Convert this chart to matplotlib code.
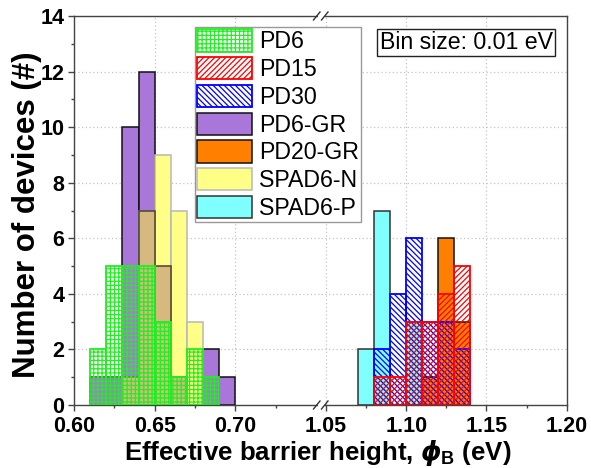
import numpy as np
import matplotlib
matplotlib.use("Agg")
import matplotlib.pyplot as plt
from matplotlib.ticker import MultipleLocator, FixedLocator
from matplotlib.lines import Line2D
from matplotlib.patches import Rectangle

plt.rcParams['font.family'] = ['Liberation Sans', 'DejaVu Sans']
plt.rcParams['mathtext.fontset'] = 'custom'
plt.rcParams['mathtext.it'] = 'DejaVu Sans:italic:bold'
plt.rcParams['mathtext.bf'] = 'Liberation Sans:bold'
plt.rcParams['mathtext.rm'] = 'Liberation Sans:bold'
plt.rcParams['hatch.linewidth'] = 0.9

# ---------------- data ----------------
bin_width = 0.01
pd6_bins = [0.61, 0.62, 0.63, 0.64, 0.65, 0.66, 0.67, 0.68]
pd6_counts = [2, 5, 5, 5, 3, 1, 2, 1]
pd15_bins = [1.08, 1.09, 1.10, 1.11, 1.12, 1.13]
pd15_counts = [1, 1, 3, 3, 4, 5]
pd30_bins = [1.08, 1.09, 1.10, 1.11, 1.12, 1.13]
pd30_counts = [2, 4, 6, 3, 3, 2]
pd6gr_bins = [0.61, 0.62, 0.63, 0.64, 0.65, 0.66, 0.67, 0.68, 0.69]
pd6gr_counts = [1, 1, 10, 12, 5, 1, 0, 2, 1]
pd20gr_bins = [1.11, 1.12, 1.13]
pd20gr_counts = [1, 6, 3]
spad6n_bins = [0.63, 0.64, 0.65, 0.66, 0.67]
spad6n_counts = [1, 7, 9, 7, 3]
spad6p_bins = [1.07, 1.08, 1.09, 1.10]
spad6p_counts = [2, 7, 0, 3]

labels = ['PD6', 'PD15', 'PD30', 'PD6-GR', 'PD20-GR', 'SPAD6-N', 'SPAD6-P']
left_xticks = [0.60, 0.65, 0.70]
right_xticks = [1.05, 1.10, 1.15, 1.20]
xtick_labels_left = ['0.60', '0.65', '0.70']
xtick_labels_right = ['1.05', '1.10', '1.15', '1.20']

# ---------------- figure ----------------
W, H = 591, 468
fig = plt.figure(figsize=(W / 100, H / 100), dpi=100)

x0, xbrk, x1 = 74, 321.5, 566.7
ytop, ybot = 16, 405
axL = fig.add_axes([x0 / W, 1 - ybot / H, (xbrk - x0) / W, (ybot - ytop) / H])
axR = fig.add_axes([xbrk / W, 1 - ybot / H, (x1 - xbrk) / W, (ybot - ytop) / H])

axL.set_xlim(0.60, 0.60 + (xbrk - x0) / 1614.0)
axR.set_xlim(1.20 - (x1 - xbrk) / 1605.0, 1.20)

c_green = '#22ee22'
c_red = '#ff0000'
c_blue = '#0000ff'
c_purple = '#a977d9'
c_orange = '#ff8000'
c_yellow = '#ffff88'
c_cyan = '#80ffff'
c_tan = '#d5b97f'

# overlap of PD6-GR and SPAD6-N (semi-transparent look)
gr_map = dict(zip(np.round(pd6gr_bins, 2), pd6gr_counts))
ov_bins = [b for b in spad6n_bins]
ov_counts = [min(gr_map.get(round(b, 2), 0), c) for b, c in zip(spad6n_bins, spad6n_counts)]

handles = {}
for ax in (axL, axR):
    ax.set_axisbelow(True)
    h = ax.bar(pd6gr_bins, pd6gr_counts, width=bin_width, align='edge',
               color=c_purple, edgecolor='#111111', linewidth=1.1, zorder=2)
    handles['PD6-GR'] = h
    h = ax.bar(spad6n_bins, spad6n_counts, width=bin_width, align='edge',
               color=c_yellow, edgecolor='#b8b8b8', linewidth=1.1, zorder=3)
    handles['SPAD6-N'] = h
    ax.bar(ov_bins, ov_counts, width=bin_width, align='edge',
           color=c_tan, edgecolor='#4a4030', linewidth=1.1, zorder=3.5)
    h = ax.bar(spad6p_bins, spad6p_counts, width=bin_width, align='edge',
               color=c_cyan, edgecolor='#333333', linewidth=1.1, zorder=2)
    handles['SPAD6-P'] = h
    h = ax.bar(pd20gr_bins, pd20gr_counts, width=bin_width, align='edge',
               color=c_orange, edgecolor='#111111', linewidth=1.1, zorder=2.5)
    handles['PD20-GR'] = h
    h = ax.bar(pd30_bins, pd30_counts, width=bin_width, align='edge',
               facecolor='none', edgecolor=c_blue, hatch='\\' * 6, linewidth=1.3, zorder=4)
    handles['PD30'] = h
    h = ax.bar(pd15_bins, pd15_counts, width=bin_width, align='edge',
               facecolor='none', edgecolor=c_red, hatch='/' * 6, linewidth=1.3, zorder=5)
    handles['PD15'] = h
    h = ax.bar(pd6_bins, pd6_counts, width=bin_width, align='edge',
               facecolor='none', edgecolor=c_green, hatch='+' * 4, linewidth=1.3, zorder=6)
    handles['PD6'] = h

    ax.set_ylim(0, 14)
    ax.yaxis.set_major_locator(MultipleLocator(2))
    ax.yaxis.set_minor_locator(MultipleLocator(1))
    ax.grid(True, which='major', color='#c4c4c4', linestyle=(0, (1, 2)), linewidth=0.9)
    for s in ax.spines.values():
        s.set_color('#444444')
        s.set_linewidth(1.0)
    ax.tick_params(which='major', direction='out', length=4.5, width=1.0, color='#444444',
                   labelsize=15.5, pad=2.5)
    ax.tick_params(which='minor', direction='out', length=2.5, width=1.0, color='#444444')
    ax.tick_params(top=False, right=False, which='both')

axL.xaxis.set_major_locator(FixedLocator(left_xticks))
axL.set_xticklabels(xtick_labels_left, fontweight='bold')
axL.xaxis.set_minor_locator(FixedLocator([0.625, 0.675, 0.725]))
axR.xaxis.set_major_locator(FixedLocator(right_xticks))
axR.set_xticklabels(xtick_labels_right, fontweight='bold')
axR.xaxis.set_minor_locator(FixedLocator([1.075, 1.125, 1.175]))
for lab in axL.get_yticklabels():
    lab.set_fontweight('bold')
axR.tick_params(axis='y', which='both', left=False, labelleft=False)
axL.spines['right'].set_visible(False)
axR.spines['left'].set_visible(False)
axL.tick_params(axis='x', pad=3.5)
axR.tick_params(axis='x', pad=3.5)

fig.text(27 / W, 1 - 215 / H, 'Number of devices (#)', fontsize=22.5, fontweight='bold',
         rotation=90, ha='center', va='center')
fig.text(318 / W, 1 - 452 / H,
         r'Effective barrier height, $\phi_\mathbf{B}$ (eV)',
         fontsize=18.6, fontweight='bold', ha='center', va='center')

# break marks
def px(x, y):
    return (x / W, 1 - y / H)

for yb in (ybot, ytop):
    fig.patches.append(Rectangle(px(318.3, yb + 1.5), 6.5 / W, 3 / H,
                                 transform=fig.transFigure, facecolor='white',
                                 edgecolor='none', zorder=10))
    for xs in (313.5, 321.5):
        (xa, ya), (xb, yb2) = px(xs, yb + 4), px(xs + 6.5, yb - 4)
        fig.lines.append(Line2D([xa, xb], [ya, yb2], transform=fig.transFigure,
                                color='#333333', linewidth=1.0, zorder=11))

# legend
order = ['PD6', 'PD15', 'PD30', 'PD6-GR', 'PD20-GR', 'SPAD6-N', 'SPAD6-P']
leg = axR.legend([handles[k] for k in order], labels,
                 loc='upper left', bbox_to_anchor=px(195, 27),
                 bbox_transform=fig.transFigure, fontsize=16.7, frameon=True,
                 fancybox=False, borderpad=0.1, borderaxespad=0,
                 handlelength=2.35, handleheight=1.1, handletextpad=0.3,
                 labelspacing=0.16, framealpha=1)
leg.get_frame().set_edgecolor('#999999')
leg.get_frame().set_linewidth(1.0)
leg.set_zorder(20)

fig.text(466 / W, 1 - 42.5 / H, 'Bin size: 0.01 eV', fontsize=16.7, ha='center', va='center',
         bbox=dict(boxstyle='square,pad=0.1', facecolor='white', edgecolor='#222222',
                   linewidth=1.0))

fig.savefig('out.png', dpi=100)
